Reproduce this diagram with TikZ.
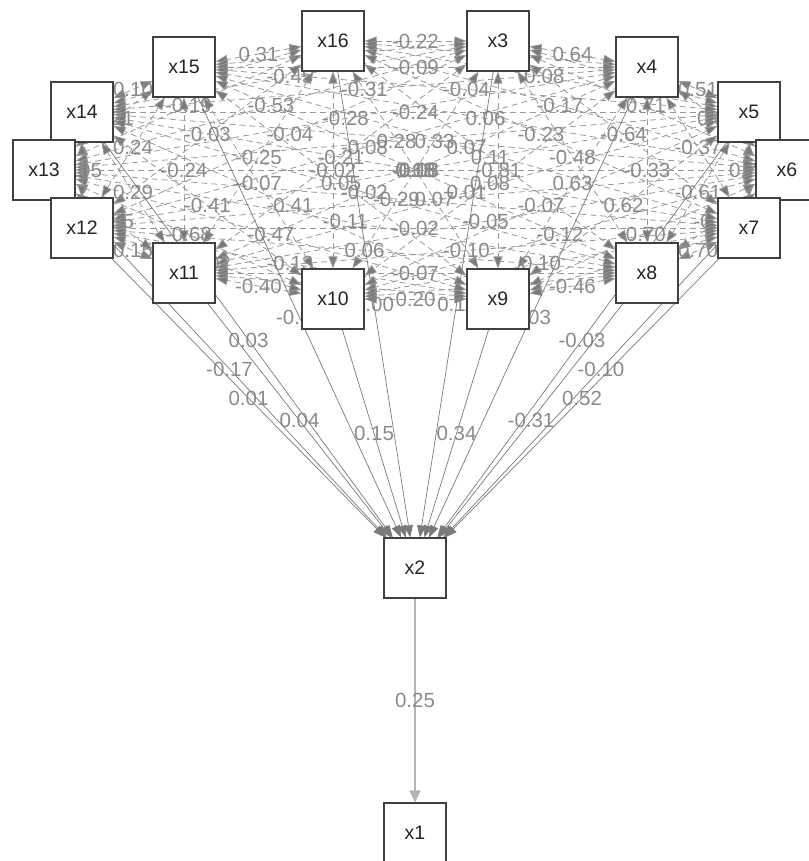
\documentclass[tikz,border=0pt]{standalone}
\usepackage{fontspec}
\setmainfont{Liberation Sans}
\usetikzlibrary{arrows.meta}
\pgfdeclarelayer{background}
\pgfsetlayers{background,main}
\definecolor{labgray}{HTML}{8A8A8A}
\definecolor{covgray}{HTML}{989898}
\definecolor{reggray}{HTML}{7A7A7A}
\definecolor{tipgray}{HTML}{7A7A7A}
\definecolor{outgray}{HTML}{B4B4B4}
\begin{document}
\begin{tikzpicture}[x=1pt,y=-1pt,
  box/.style={draw=black!75,line width=1.1pt,fill=white,minimum width=62pt,minimum height=60pt,inner sep=0pt,font=\fontsize{19.5}{19.5}\selectfont,text=black!85},
  lab/.style={midway,inner sep=0pt,text=labgray,font=\fontsize{20.5}{20.5}\selectfont},
  cov/.style={draw=covgray,line width=0.8pt,dash pattern=on 6pt off 4pt,{Triangle[length=12pt,width=9pt,fill=tipgray]}-{Triangle[length=12pt,width=9pt,fill=tipgray]}},
  reg/.style={draw=reggray,line width=0.7pt,-{Triangle[length=12pt,width=9pt,fill=tipgray]}},
  outreg/.style={draw=outgray,line width=2.4pt,-{Triangle[length=12pt,width=11pt]}}
]
\useasboundingbox (0,0) rectangle (808,861);
\node[box] (x16) at (333,41) {x16};
\node[box] (x3)  at (498,41) {x3};
\node[box] (x15) at (184,67) {x15};
\node[box] (x4)  at (647,67) {x4};
\node[box] (x14) at (82,112) {x14};
\node[box] (x5)  at (749,112) {x5};
\node[box] (x13) at (44,170) {x13};
\node[box] (x6)  at (787,170) {x6};
\node[box] (x12) at (82,228) {x12};
\node[box] (x7)  at (749,228) {x7};
\node[box] (x11) at (184,273) {x11};
\node[box] (x8)  at (647,273) {x8};
\node[box] (x10) at (333,299) {x10};
\node[box] (x9)  at (498,299) {x9};
\node[box] (x2)  at (415,568) {x2};
\node[box] (x1)  at (415,833) {x1};
\begin{pgfonlayer}{background}
\foreach \a/\b/\l in {
 x16/x3/-0.22, x16/x4/, x16/x5/-0.08, x16/x6/-0.17, x16/x7/-0.23, x16/x8/0.11, x16/x9/-0.18, x16/x10/-0.02, x16/x11/-0.25, x16/x12/-0.03, x16/x13/-0.19, x16/x14/, x16/x15/0.31,
 x3/x4/0.64, x3/x5/, x3/x6/-0.71, x3/x7/-0.64, x3/x8/-0.48, x3/x9/-0.81, x3/x10/0.15, x3/x11/-0.21, x3/x12/-0.04, x3/x13/-0.53, x3/x14/-0.45, x3/x15/,
 x4/x5/0.51, x4/x6/0.09, x4/x7/-0.37, x4/x8/-0.33, x4/x9/0.63, x4/x10/0.08, x4/x11/-0.13, x4/x12/-0.08, x4/x13/-0.28, x4/x14/-0.31, x4/x15/-0.09,
 x5/x6/, x5/x7/0.72, x5/x8/-0.61, x5/x9/0.62, x5/x10/-0.07, x5/x11/0.01, x5/x12/0.18, x5/x13/0.28, x5/x14/-0.24, x5/x15/-0.04,
 x6/x7/, x6/x8/-0.36, x6/x9/-0.70, x6/x10/-0.12, x6/x11/-0.05, x6/x12/0.07, x6/x13/-0.15, x6/x14/0.33, x6/x15/0.06,
 x7/x8/0.70, x7/x9/, x7/x10/0.10, x7/x11/-0.10, x7/x12/-0.02, x7/x13/-0.29, x7/x14/0.05, x7/x15/0.07,
 x8/x9/-0.46, x8/x10/, x8/x11/-0.07, x8/x12/0.06, x8/x13/-0.11, x8/x14/-0.02, x8/x15/-0.08,
 x9/x10/0.20, x9/x11/, x9/x12/-0.13, x9/x13/-0.47, x9/x14/-0.41, x9/x15/0.05,
 x10/x11/-0.40, x10/x12/-0.02, x10/x13/-0.68, x10/x14/-0.41, x10/x15/-0.07,
 x11/x12/0.15, x11/x13/0.55, x11/x14/0.29, x11/x15/-0.24,
 x12/x13/, x12/x14/0.05, x12/x15/0.24,
 x13/x14/, x13/x15/0.21,
 x14/x15/0.10}
 \draw[cov] (\a) -- (\b) node[lab] {\l};
\foreach \a/\l in {x16/0.00, x3/0.11, x15/-0.05, x4/0.03, x14/0.03, x5/-0.03, x13/-0.17, x6/-0.10, x12/0.01, x7/0.52, x11/0.04, x8/-0.31, x10/0.15, x9/0.34}
 \draw[reg] (\a) -- (x2) node[lab] {\l};
\draw[outreg] (x2) -- (x1) node[lab] {0.25};
\end{pgfonlayer}
\end{tikzpicture}
\end{document}
